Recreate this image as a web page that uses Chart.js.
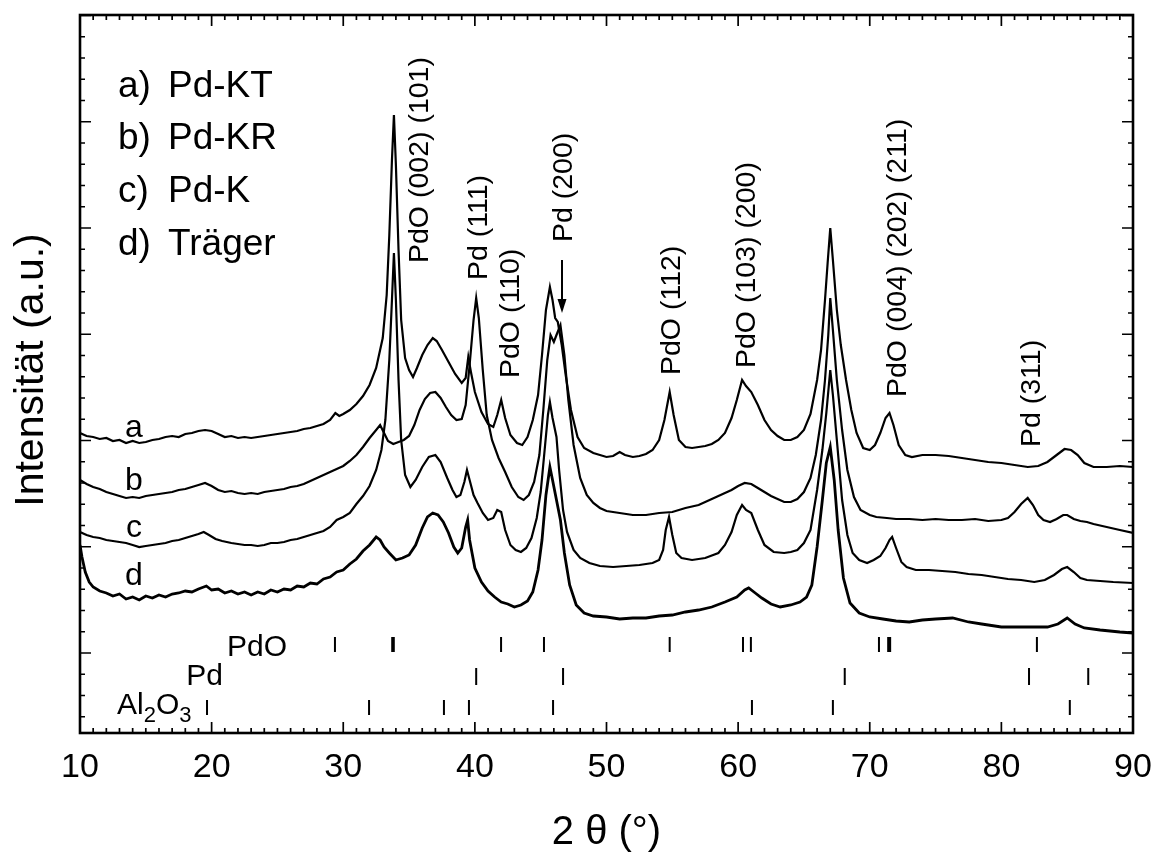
<!DOCTYPE html>
<html>
<head>
<meta charset="utf-8">
<script src="https://cdn.jsdelivr.net/npm/chart.js@4.4.1/dist/chart.umd.min.js"></script>
<style>
  html, body { margin: 0; padding: 0; background: #fff; }
  #wrap { width: 1162px; height: 857px; }
</style>
</head>
<body>
<div id="wrap"><canvas id="xrdChart" width="1162" height="857"></canvas></div>
<script>
// 2-theta positions and intensities (a.u.)
const thetaA = [10,10.5,11,11.5,12,12.5,13,13.5,14,14.5,15,15.5,16,16.5,17,17.5,18,18.5,19,19.5,20,20.5,21,21.5,22,22.5,23,23.5,24,24.5,25,25.5,26,26.5,27,27.5,28,28.5,29,29.4,29.7,30,30.5,31,31.5,32,32.5,33,33.3,33.5,33.7,33.85,34,34.2,34.4,34.7,35,35.3,35.6,36,36.4,36.8,37.1,37.5,38,38.5,39,39.3,39.5,39.7,40,40.5,41,41.4,41.7,42,42.3,42.7,43.2,43.6,44,44.4,44.8,45.1,45.4,45.7,45.9,46.1,46.3,46.6,46.9,47.3,47.8,48.3,49,49.5,50,50.5,51,51.4,52,52.5,53,53.5,54,54.4,54.8,55.1,55.5,56,56.5,57,57.5,58,58.5,59,59.5,59.9,60.3,60.6,61,61.5,62,62.5,63,63.5,64,64.5,65,65.5,66,66.3,66.6,66.8,67,67.2,67.5,67.8,68.2,68.6,69,69.5,70,70.4,70.8,71.2,71.5,71.8,72.2,72.7,73.2,74,75,76,77,78,79,80,81,82,82.8,83.5,84.2,84.8,85.3,85.8,86.3,87,88,89,90];
const intA = [567,564,563,561,562,559,560,557,559,557,558,560,561,563,564,563,566,567,569,570,569,566,563,564,562,563,562,563,564,565,566,567,568,569,571,572,574,576,580,587,584,586,590,596,604,615,632,662,705,765,840,885,835,750,680,642,630,623,632,645,655,662,659,650,638,626,617,622,643,628,608,588,576,573,585,600,582,565,557,555,563,580,605,645,690,713,700,682,678,655,625,590,563,552,547,545,543,544,548,545,543,544,546,550,560,580,608,585,560,553,552,553,554,556,560,567,582,600,620,614,608,595,580,570,564,560,560,563,570,586,620,650,700,737,772,740,690,655,620,590,567,552,550,555,567,582,587,575,555,545,543,545,545,544,542,540,538,537,535,533,534,538,545,551,550,545,537,533,533,534,533];

const thetaB = [10,10.5,11,11.5,12,12.5,13,13.5,14,14.5,15,15.5,16,16.5,17,17.5,18,18.5,19,19.5,20,20.5,21,21.5,22,22.5,23,23.5,24,24.5,25,25.5,26,26.5,27,27.5,28,28.5,29,29.5,30,30.5,31,31.5,32,32.5,32.8,33.1,33.4,33.8,34.2,34.6,35,35.4,35.8,36.2,36.6,37,37.4,37.8,38.2,38.6,39,39.3,39.6,39.9,40.1,40.3,40.6,40.9,41.3,41.8,42.3,42.8,43.3,43.7,44.1,44.5,44.9,45.2,45.5,45.75,46,46.2,46.5,46.8,47.1,47.5,48,48.5,49,49.5,50,51,52,53,54,55,56,57,58,58.5,59,59.5,60,60.5,61,61.5,62,62.5,63,63.5,64,64.5,65,65.5,65.9,66.3,66.6,66.85,67,67.2,67.5,67.9,68.3,68.8,69.3,70,70.5,71.3,72,73,74,75,76,77,78,79,80,80.5,81,81.5,82,82.4,82.8,83.2,83.7,84.2,84.7,85,85.5,86,86.5,87,88,89,90];
const intB = [520,516,513,511,508,506,504,502,503,502,504,505,506,507,508,510,511,513,515,517,514,510,508,509,507,506,507,506,508,509,510,511,513,514,516,519,522,525,528,531,534,539,545,553,562,570,575,567,559,556,558,560,564,575,590,601,607,608,602,593,585,580,581,595,635,680,702,682,630,585,560,542,528,513,503,500,505,518,545,590,640,665,658,665,675,645,600,555,522,505,497,492,489,487,485,485,487,488,492,495,501,504,507,510,514,517,516,512,508,504,501,498,498,501,508,522,545,580,620,665,702,670,620,570,530,503,490,485,483,482,481,481,480,481,480,480,481,479,480,482,488,496,502,495,485,480,478,481,485,485,481,479,478,476,473,470,467];

const thetaC = [10,10.5,11,11.5,12,12.5,13,13.5,14,14.5,15,15.5,16,16.5,17,17.5,18,18.5,19,19.4,19.8,20.3,20.8,21.5,22,22.5,23,23.5,24,24.5,25,25.5,26,26.5,27,27.5,28,28.5,29,29.5,30,30.5,31,31.5,32,32.5,32.9,33.2,33.5,33.7,33.85,34,34.2,34.4,34.7,35.1,35.5,36,36.5,37,37.4,37.9,38.3,38.6,38.9,39.2,39.4,39.6,39.9,40.2,40.6,41,41.4,41.7,42,42.3,42.7,43.1,43.5,43.9,44.3,44.7,45,45.3,45.55,45.7,45.9,46.2,46.4,46.7,47,47.5,48,48.7,49.5,50.5,51.5,52.5,53.5,54,54.3,54.5,54.75,55,55.3,55.7,56.5,57.5,58.5,59,59.5,59.9,60.3,60.6,61,61.5,62,62.7,63.5,64,64.5,65,65.5,66,66.4,66.7,67,67.2,67.5,67.9,68.3,68.7,69.2,69.8,70.3,70.8,71.2,71.5,71.7,72,72.4,72.8,73.5,74.5,75.5,76.5,77.5,78.5,79.5,80.5,81.5,82.5,83.3,84,84.6,85,85.5,86,86.5,87.5,88.5,90];
const intC = [468,465,463,462,460,459,458,457,455,453,454,455,456,457,459,460,462,464,466,468,465,461,459,457,456,455,455,454,455,457,457,458,460,461,463,465,467,469,473,480,483,487,496,504,514,530,550,580,640,700,747,700,620,560,525,513,520,533,543,545,538,522,510,503,505,518,530,520,505,497,487,480,482,490,488,470,455,450,448,452,462,482,508,550,585,598,582,563,530,490,468,450,442,437,434,433,434,435,437,440,450,470,483,465,447,442,440,442,447,455,468,485,495,490,487,470,455,448,447,448,450,457,470,510,550,587,630,605,560,500,465,447,440,437,440,444,452,460,463,452,438,433,430,430,429,428,426,425,423,421,420,418,420,425,431,433,428,422,420,419,418,417];

const thetaD = [10,10.15,10.4,10.7,11,11.5,12,12.5,13,13.5,14,14.5,15,15.5,16,16.5,17,17.5,18,18.5,19,19.6,20,20.5,21,21.5,22,22.5,23,23.5,24,24.5,25,25.5,26,26.5,27,27.5,28,28.5,29,29.5,30,30.5,31,31.5,32,32.5,32.8,33.1,33.5,34,34.5,35,35.5,36,36.4,36.8,37.2,37.6,38,38.4,38.7,39,39.3,39.45,39.6,40,40.5,41,41.5,42,42.5,43,43.5,44,44.4,44.8,45.1,45.4,45.7,45.9,46.2,46.5,46.8,47.2,47.7,48.3,49,50,51,52,53,54,55,56,57,58,59,59.9,60.5,60.8,61.3,61.8,62.5,63.2,64,64.7,65.2,65.6,66,66.4,66.7,67,67.3,67.6,68,68.5,69.2,70,71,72,73,74,75,76.3,77.5,78.5,80,81,82,83.5,84.3,85,85.6,86.3,87.5,89,90];
const intD = [455,443,428,418,413,409,407,404,406,401,403,400,404,402,405,403,406,407,409,408,411,414,410,411,407,409,406,408,405,408,406,410,408,411,410,414,413,417,416,421,423,428,430,436,441,449,455,463,460,453,447,440,442,445,455,472,483,487,485,478,467,453,447,452,473,480,460,432,418,409,403,398,396,393,395,399,408,430,460,505,533,520,500,480,447,415,395,387,384,383,381,382,382,384,385,388,390,393,398,403,410,412,407,402,396,393,395,398,403,415,453,500,537,553,520,470,422,397,387,383,381,379,378,380,381,382,378,376,373,373,373,373,376,382,376,372,370,368,367];

const curveLetters = ['a', 'b', 'c', 'd'];
const sampleNames = ['a) Pd-KT', 'b) Pd-KR', 'c) Pd-K', 'd) Träger'];

// reference reflections (2 theta)
const pdoRefs = [29.37, 33.72, 33.84, 41.99, 45.25, 54.8, 60.37, 60.97, 70.7, 71.4, 71.55, 82.7];
const pdRefs = [40.1, 46.7, 68.1, 82.1, 86.6];
const al2o3Refs = [19.65, 31.96, 37.65, 39.55, 45.94, 61.05, 67.2, 85.2];

// axis ticks
const xTickLabels = ['10', '20', '30', '40', '50', '60', '70', '80', '90'];
const yMajorBase = 347, yMinorStep = 21.25;

// peak labels: text, 2theta at text baseline, intensity at text start
const peakLabels = [
  ['PdO (002) (101)', 36.44, 737],
  ['Pd (111)', 40.92, 720],
  ['PdO (110)', 43.35, 622],
  ['Pd (200)', 47.38, 758],
  ['PdO (112)', 55.58, 625],
  ['PdO (103) (200)', 61.28, 632],
  ['PdO (004) (202) (211)', 72.75, 603],
  ['Pd (311)', 82.93, 553]
];
const arrowPd200 = { x: 46.62, from: 740, to: 687 };
const letterPos = { x: 14.1, y: [563, 510, 463, 415] };

const FONT = '"Liberation Sans", Arial, sans-serif';

function toPoints(xs, ys) {
  return xs.map((v, i) => ({ x: v, y: ys[i] }));
}

const decorations = {
  id: 'decorations',
  afterDraw(chart) {
    const { ctx, chartArea: area, scales: { x, y } } = chart;
    ctx.save();
    ctx.strokeStyle = '#000';
    ctx.fillStyle = '#000';

    // inward ticks on all four sides
    ctx.lineWidth = 1.7;
    ctx.beginPath();
    for (let t = 10; t <= 90; t++) {
      const px = x.getPixelForValue(t);
      const len = t % 10 === 0 ? 11 : 5;
      ctx.moveTo(px, area.bottom); ctx.lineTo(px, area.bottom - len);
      ctx.moveTo(px, area.top); ctx.lineTo(px, area.top + len);
    }
    for (let k = -3; k <= 30; k++) {
      const v = yMajorBase + k * yMinorStep;
      if (v <= y.min || v >= y.max) continue;
      const py = y.getPixelForValue(v);
      const len = k % 5 === 0 ? 11 : 5;
      ctx.moveTo(area.left, py); ctx.lineTo(area.left + len, py);
      ctx.moveTo(area.right, py); ctx.lineTo(area.right - len, py);
    }
    ctx.stroke();

    // frame
    ctx.lineWidth = 2.6;
    ctx.strokeRect(area.left, area.top, area.right - area.left, area.bottom - area.top);

    // x tick labels
    ctx.font = '34px ' + FONT;
    ctx.textAlign = 'center';
    ctx.textBaseline = 'middle';
    xTickLabels.forEach(lbl => {
      ctx.fillText(lbl, x.getPixelForValue(Number(lbl)), 768);
    });

    // axis titles
    ctx.font = '40px ' + FONT;
    ctx.fillText('2 \u03b8 (\u00b0)', (area.left + area.right) / 2, 833);
    ctx.save();
    ctx.translate(43, (area.top + area.bottom) / 2 - 4);
    ctx.rotate(-Math.PI / 2);
    ctx.textBaseline = 'alphabetic';
    ctx.font = '41px ' + FONT;
    ctx.fillText('Intensit\u00e4t (a.u.)', 0, 0);
    ctx.restore();

    // sample legend
    ctx.textAlign = 'left';
    ctx.textBaseline = 'alphabetic';
    ctx.font = '37px ' + FONT;
    const legendBase = [97, 149, 202, 255];
    sampleNames.forEach((name, i) => {
      const cut = name.indexOf(' ');
      ctx.fillText(name.slice(0, cut), 118, legendBase[i]);
      ctx.fillText(name.slice(cut + 1), 168, legendBase[i]);
    });

    // curve letters
    ctx.font = '32px ' + FONT;
    ctx.textAlign = 'center';
    curveLetters.forEach((c, i) => {
      ctx.fillText(c, x.getPixelForValue(letterPos.x), y.getPixelForValue(letterPos.y[i]));
    });

    // peak labels (rotated)
    ctx.font = '28.5px ' + FONT;
    peakLabels.forEach(([txt, tx, ty]) => {
      ctx.save();
      ctx.translate(x.getPixelForValue(tx), y.getPixelForValue(ty));
      ctx.rotate(-Math.PI / 2);
      ctx.textAlign = 'left';
      ctx.textBaseline = 'alphabetic';
      ctx.fillText(txt, 0, 0);
      ctx.restore();
    });

    // arrow for Pd (200)
    const ax = x.getPixelForValue(arrowPd200.x);
    const ay0 = y.getPixelForValue(arrowPd200.from);
    const ay1 = y.getPixelForValue(arrowPd200.to);
    ctx.lineWidth = 2;
    ctx.beginPath();
    ctx.moveTo(ax, ay0); ctx.lineTo(ax, ay1 - 12);
    ctx.stroke();
    ctx.beginPath();
    ctx.moveTo(ax - 4.5, ay1 - 14); ctx.lineTo(ax + 4.5, ay1 - 14); ctx.lineTo(ax, ay1);
    ctx.closePath();
    ctx.fill();

    // reference reflection markers
    const rows = [
      { refs: pdoRefs, top: 363, bottom: 348 },
      { refs: pdRefs, top: 332, bottom: 315 },
      { refs: al2o3Refs, top: 300, bottom: 285 }
    ];
    ctx.lineWidth = 2;
    ctx.beginPath();
    rows.forEach(r => {
      r.refs.forEach(t => {
        const px = x.getPixelForValue(t);
        ctx.moveTo(px, y.getPixelForValue(r.top));
        ctx.lineTo(px, y.getPixelForValue(r.bottom));
      });
    });
    ctx.stroke();

    // phase names
    ctx.textAlign = 'right';
    ctx.textBaseline = 'alphabetic';
    ctx.font = '30px ' + FONT;
    ctx.fillText('PdO', 287, 656);
    ctx.fillText('Pd', 223, 685);
    // Al2O3 with subscripts
    ctx.textAlign = 'left';
    let cx = 117;
    const parts = [['Al', false], ['2', true], ['O', false], ['3', true]];
    parts.forEach(([s, sub]) => {
      ctx.font = (sub ? '22px ' : '30px ') + FONT;
      ctx.fillText(s, cx, sub ? 722 : 714);
      cx += ctx.measureText(s).width;
    });

    ctx.restore();
  }
};

const lineStyle = { borderColor: '#000', borderWidth: 2.2, pointRadius: 0, tension: 0, fill: false };

new Chart(document.getElementById('xrdChart').getContext('2d'), {
  type: 'line',
  data: {
    datasets: [
      { label: 'a', data: toPoints(thetaA, intA), ...lineStyle },
      { label: 'b', data: toPoints(thetaB, intB), ...lineStyle },
      { label: 'c', data: toPoints(thetaC, intC), ...lineStyle },
      { label: 'd', data: toPoints(thetaD, intD), ...lineStyle, borderWidth: 2.8 }
    ]
  },
  options: {
    responsive: false,
    animation: false,
    devicePixelRatio: 1,
    layout: { padding: { left: 80, right: 29, top: 15, bottom: 124 } },
    scales: {
      x: { type: 'linear', min: 10, max: 90, display: false },
      y: { type: 'linear', min: 267, max: 985, display: false }
    },
    plugins: { legend: { display: false }, tooltip: { enabled: false } }
  },
  plugins: [decorations]
});
</script>
</body>
</html>
